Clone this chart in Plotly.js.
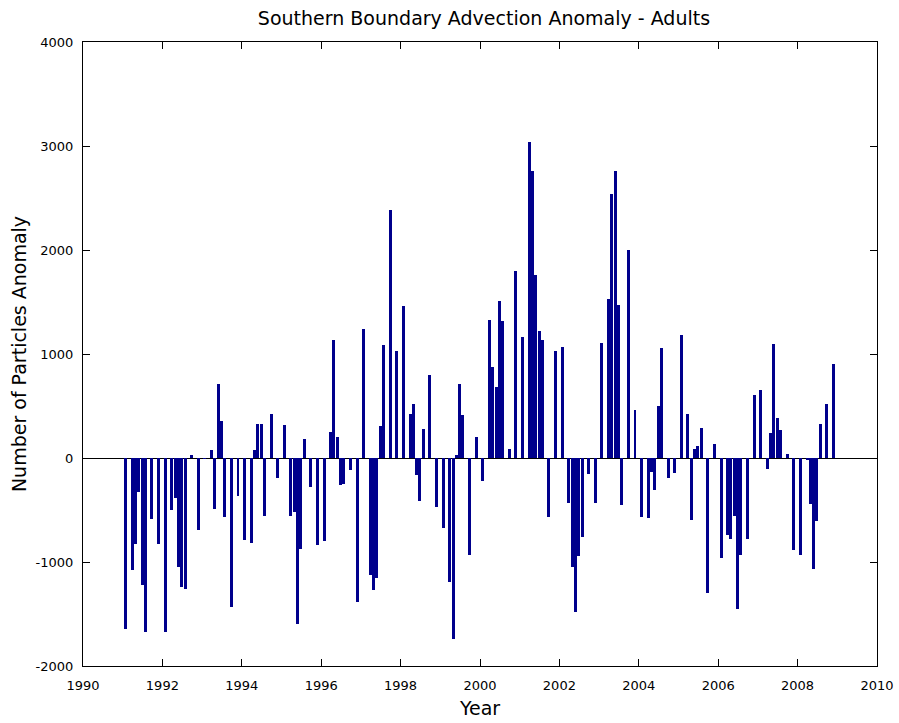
<!DOCTYPE html>
<html>
<head>
<meta charset="utf-8">
<script src="https://cdn.plot.ly/plotly-3.0.1.min.js"></script>
<style>html,body{margin:0;padding:0;background:#fff;}#chart{width:899px;height:723px;}</style>
</head>
<body>
<div id="chart"></div>
<script>
// Monthly anomaly values, Jan 1991 .. Dec 2008 (0 = no bar)
const startYear = 1991;
const values1991_1993 = [-1644,0,-1074,-827,-330,-1218,-1676,0,-587,0,-827,0,
  -1676,0,-500,-385,-1051,-1237,-1260,0,26,0,-692,0,
  -10,0,77,-494,712,356,-564,0,-1429,0,-362,0];
const values1994_1996 = [-785,0,-821,77,327,327,-554,0,423,0,-192,0,
  317,0,-554,-520,-1596,-872,183,0,-282,0,-833,0,
  -801,0,247,1130,199,-256,-250,0,-115,0,-1385,0];
const values1997_1999 = [1240,0,-1122,-1266,-1154,311,1090,0,2388,0,1026,0,
  1458,0,423,522,-167,-417,282,0,795,0,-468,0,
  -673,0,-1192,-1740,32,712,417,0,-936,0,204,0];
const values2000_2002 = [-224,0,1327,872,679,1513,1314,0,83,0,1795,0,
  1160,0,3042,2756,1763,1218,1135,0,-571,0,1032,0,
  1064,0,-436,-1045,-1484,-941,-756,0,-154,0,-430,0];
const values2003_2005 = [1106,0,1532,2542,2763,1474,-449,0,2003,0,465,0,
  -571,0,-577,-135,-304,497,1058,0,-192,0,-144,0,
  1186,0,423,-593,90,112,288,0,-1298,0,130,0];
const values2006_2008 = [-958,0,-740,-782,-558,-1449,-933,0,-776,0,606,0,
  654,0,-109,237,1099,381,266,0,35,0,-885,0,
  -933,0,-22,-439,-1071,-606,324,0,516,0,901,0];

const values = [].concat(values1991_1993, values1994_1996, values1997_1999,
                         values2000_2002, values2003_2005, values2006_2008);
const xYears = values.map((v, i) => startYear + (i + 0.85) / 12);

const xTickVals = [1990,1992,1994,1996,1998,2000,2002,2004,2006,2008,2010];
const yTickVals = [-2000,-1000,0,1000,2000,3000,4000];

const trace = {
  type: 'bar',
  x: xYears,
  y: values,
  marker: {color: '#00008C', line: {width: 0}},
  width: 0.9 / 12,
  hoverinfo: 'x+y'
};

const FONT = 'DejaVu Sans, Liberation Sans, Arial, sans-serif';
const axisFont = {family: FONT, size: 13, color: '#000'};

const layout = {
  width: 899, height: 723,
  paper_bgcolor: '#fff', plot_bgcolor: '#fff',
  margin: {l: 83, r: 22, t: 42, b: 57},
  showlegend: false,
  font: {family: FONT, color: '#000'},
  title: {
    text: 'Southern Boundary Advection Anomaly - Adults',
    xref: 'paper', x: 0.505, xanchor: 'center', y: 0.975, yanchor: 'middle',
    font: {family: FONT, size: 19, color: '#000'}
  },
  xaxis: {
    range: [1990, 2010],
    tickvals: xTickVals,
    ticktext: xTickVals.map(String),
    ticks: 'inside', ticklen: 7, tickwidth: 1, tickcolor: '#000',
    showline: true, linecolor: '#000', linewidth: 1, mirror: 'ticks',
    showgrid: false, zeroline: false,
    tickfont: axisFont,
    ticklabelstandoff: 7,
    title: {text: 'Year', font: {family: FONT, size: 19, color: '#000'}, standoff: 10}
  },
  yaxis: {
    range: [-2000, 4000],
    tickvals: yTickVals,
    ticktext: yTickVals.map(String),
    ticks: 'inside', ticklen: 7, tickwidth: 1, tickcolor: '#000',
    showline: true, linecolor: '#000', linewidth: 1, mirror: 'ticks',
    showgrid: false,
    zeroline: true, zerolinecolor: '#000', zerolinewidth: 1,
    tickfont: axisFont,
    ticklabelstandoff: 6,
    title: {text: 'Number of Particles Anomaly', font: {family: FONT, size: 19, color: '#000'}, standoff: 3}
  },
  bargap: 0
};

Plotly.newPlot('chart', [trace], layout, {displayModeBar: false, staticPlot: true});
</script>
</body>
</html>
